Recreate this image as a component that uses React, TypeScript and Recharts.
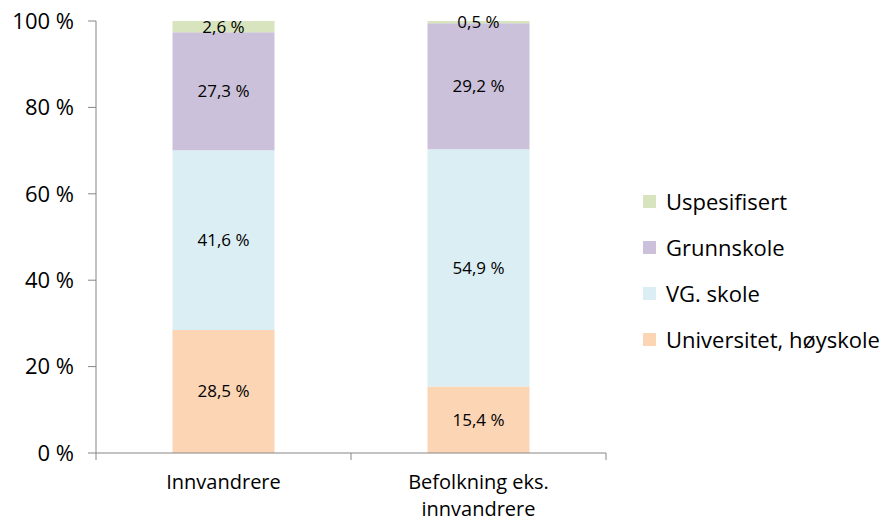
import { BarChart, Bar, XAxis, YAxis, Legend, LabelList } from "recharts";

// Utdanningsnivå, andel (%)
const CATEGORIES = ["Innvandrere", "Befolkning eks. innvandrere"];
const CATEGORY_LINES = [["Innvandrere"], ["Befolkning eks.", "innvandrere"]];
const UNIVERSITET = [28.5, 15.4];
const VG_SKOLE = [41.6, 54.9];
const GRUNNSKOLE = [27.3, 29.2];
const USPESIFISERT = [2.6, 0.5];
const Y_TICKS = [0, 20, 40, 60, 80, 100];

const SERIES = [
  { key: "univ", name: "Universitet, høyskole", color: "#FCD5B5" },
  { key: "vg", name: "VG. skole", color: "#DBEEF4" },
  { key: "grunn", name: "Grunnskole", color: "#CCC1DA" },
  { key: "usp", name: "Uspesifisert", color: "#D7E4BD" },
];

const data = CATEGORIES.map((c, i) => ({
  name: c,
  idx: i,
  univ: UNIVERSITET[i],
  vg: VG_SKOLE[i],
  grunn: GRUNNSKOLE[i],
  usp: USPESIFISERT[i],
}));

const FONT = "'Open Sans', sans-serif";
const AXIS = "#868686";

const pct = (v: any) => `${String(v).replace(".", ",")} %`;

function CatTick(props: any) {
  const { x, y, payload } = props;
  const lines = CATEGORY_LINES[payload.index] ?? [payload.value];
  return (
    <text x={x} y={y} textAnchor="middle" fontSize={20} fontFamily={FONT} fill="#000">
      {lines.map((l: string, i: number) => (
        <tspan key={i} x={x} dy={i === 0 ? 20 : 27}>{l}</tspan>
      ))}
    </text>
  );
}

function LegendBox() {
  return (
    <div style={{ fontFamily: FONT, fontSize: 22, color: "#000" }}>
      {[...SERIES].reverse().map((s) => (
        <div key={s.key} style={{ display: "flex", alignItems: "center", height: 46 }}>
          <span style={{ width: 13, height: 13, background: s.color, display: "inline-block", marginRight: 10 }} />
          <span>{s.name}</span>
        </div>
      ))}
    </div>
  );
}

export default function App() {
  return (
    <div style={{ position: "absolute", left: 0, top: 0, background: "#fff" }}>
      <BarChart
        width={888}
        height={523}
        data={data}
        margin={{ top: 21, right: 282, bottom: 0, left: 0 }}
        barCategoryGap="30%"
      >
        <XAxis
          xAxisId="b_cat"
          dataKey="name"
          height={62}
          axisLine={false}
          tickLine={false}
          tick={<CatTick />}
          interval={0}
        />
        <XAxis
          xAxisId="a_frame"
          type="number"
          dataKey="idx"
          domain={[0, 2]}
          ticks={[0, 1, 2]}
          height={8}
          tickSize={7}
          axisLine={{ stroke: AXIS }}
          tickLine={{ stroke: AXIS }}
          tickFormatter={() => ""}
        />
        <YAxis
          width={96}
          domain={[0, 100]}
          ticks={Y_TICKS}
          tickFormatter={(v) => `${v} %`}
          tickSize={8}
          tickMargin={14}
          axisLine={{ stroke: AXIS }}
          tickLine={{ stroke: AXIS }}
          tick={{ fontSize: 22, fontFamily: FONT, fill: "#000" }}
        />
        <Legend
          layout="vertical"
          align="center"
          verticalAlign="middle"
          content={<LegendBox />}
          wrapperStyle={{ left: 643, top: 178, width: 245 }}
        />
        {SERIES.map((s) => (
          <Bar key={s.key} xAxisId="b_cat" dataKey={s.key} name={s.name} stackId="a" fill={s.color} isAnimationActive={false}>
            <LabelList
              dataKey={s.key}
              position="center"
              formatter={pct}
              style={{ fontSize: 17, fontFamily: FONT, fill: "#000" }}
            />
          </Bar>
        ))}
      </BarChart>
    </div>
  );
}
